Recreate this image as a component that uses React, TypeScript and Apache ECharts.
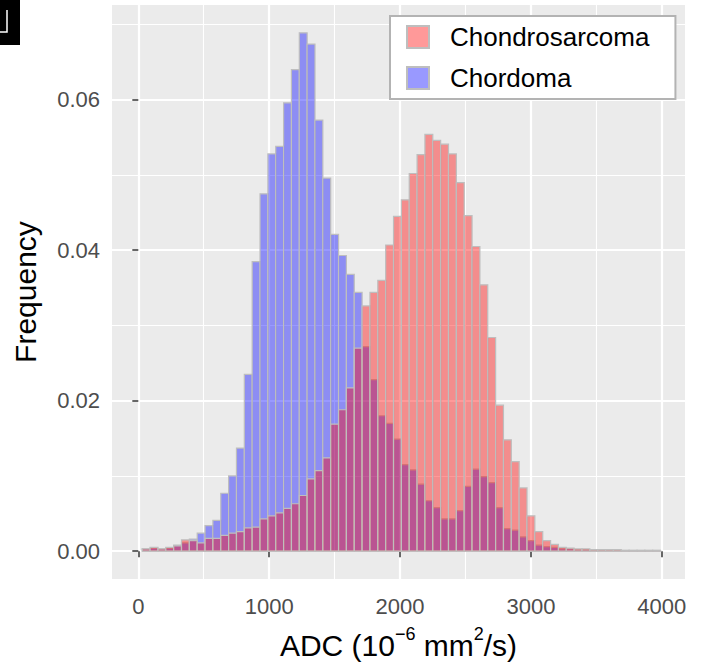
import { useEffect, useRef } from 'react';
import * as echarts from 'echarts';

const BIN_WIDTH = 60;
const BIN_CENTERS = [
  60, 120, 180, 240, 300, 360, 420, 480, 540, 600,
  660, 720, 780, 840, 900, 960, 1020, 1080, 1140, 1200,
  1260, 1320, 1380, 1440, 1500, 1560, 1620, 1680, 1740, 1800,
  1860, 1920, 1980, 2040, 2100, 2160, 2220, 2280, 2340, 2400,
  2460, 2520, 2580, 2640, 2700, 2760, 2820, 2880, 2940, 3000,
  3060, 3120, 3180, 3240, 3300, 3360, 3420, 3480, 3540, 3600,
  3660, 3720, 3780, 3840, 3900, 3960,
];
const CHONDROSARCOMA = [
  0.0003, 0.0005, 0.0003, 0.0005, 0.0007, 0.0015, 0.0014, 0.0011, 0.0017, 0.0017,
  0.0021, 0.0024, 0.0026, 0.0031, 0.0032, 0.0043, 0.0047, 0.0051, 0.0057, 0.0063,
  0.0074, 0.0096, 0.0107, 0.0124, 0.0169, 0.0188, 0.0217, 0.0270, 0.0326, 0.0344,
  0.0360, 0.0407, 0.0445, 0.0467, 0.0502, 0.0527, 0.0554, 0.0546, 0.0541, 0.0528,
  0.0490, 0.0446, 0.0405, 0.0354, 0.0284, 0.0194, 0.0148, 0.0119, 0.0084, 0.0047,
  0.0026, 0.0014, 0.0009, 0.0005, 0.0004, 0.0003, 0.0003, 0.0002, 0.0002, 0.0002,
  0.0002, 0.0001, 0.0001, 0.0001, 0.0001, 0.0001,
];
const CHORDOMA = [
  0.0003, 0.0004, 0.0003, 0.0004, 0.0008, 0.0011, 0.0016, 0.0024, 0.0034, 0.0041,
  0.0077, 0.0100, 0.0137, 0.0235, 0.0385, 0.0475, 0.0528, 0.0538, 0.0596, 0.0640,
  0.0689, 0.0674, 0.0573, 0.0496, 0.0421, 0.0393, 0.0368, 0.0344, 0.0272, 0.0228,
  0.0180, 0.0170, 0.0149, 0.0115, 0.0108, 0.0089, 0.0067, 0.0058, 0.0043, 0.0043,
  0.0054, 0.0086, 0.0109, 0.0099, 0.0091, 0.0058, 0.0030, 0.0028, 0.0019, 0.0014,
  0.0008, 0.0006, 0.0005, 0.0003, 0.0003, 0.0002, 0.0002, 0.0001, 0.0001, 0.0001,
  0.0001, 0.0001, 0.0001, 0.0001, 0.0001, 0.0001,
];
const SERIES_NAMES = ['Chondrosarcoma', 'Chordoma'];
const X_MAJOR = [0, 1000, 2000, 3000, 4000];
const X_MINOR = [500, 1500, 2500, 3500];
const Y_MAJOR = [0, 0.02, 0.04, 0.06];
const Y_MINOR = [0.01, 0.03, 0.05, 0.07];

const X_MIN = -201;
const X_MAX = 4177;
const Y_MIN = -0.0037;
const Y_MAX = 0.0726;

const FONT = 'Liberation Sans, Arial, Helvetica, sans-serif';
const RED = 'rgba(255,0,0,0.4)';
const BLUE = 'rgba(0,0,255,0.4)';
const OUTLINE = '#BEBEBE';

function makeRender(fill: string) {
  return (_params: any, api: any) => {
    const c = api.value(0) as number;
    const v = api.value(1) as number;
    const tl = api.coord([c - BIN_WIDTH / 2, v]);
    const br = api.coord([c + BIN_WIDTH / 2, 0]);
    return {
      type: 'rect',
      shape: { x: tl[0], y: tl[1], width: br[0] - tl[0], height: br[1] - tl[1] },
      style: { fill, stroke: OUTLINE, lineWidth: 1.2 },
    };
  };
}

export default function App() {
  const ref = useRef<HTMLDivElement>(null);
  useEffect(() => {
    if (!ref.current) return;
    const chart = echarts.init(ref.current, null, { renderer: 'svg' });
    const tickStyle = { color: '#333333', width: 1.5 };
    const option: any = {
      animation: false,
      textStyle: { fontFamily: FONT },
      grid: {
        left: 112, top: 5, width: 573, height: 575,
        show: true, backgroundColor: '#EBEBEB', borderWidth: 0,
      },
      legend: {
        data: SERIES_NAMES,
        orient: 'vertical',
        left: 390, top: 16,
        itemWidth: 22, itemHeight: 22, itemGap: 13,
        padding: [7, 26, 7, 16],
        backgroundColor: '#ffffff',
        borderColor: '#B3B3B3', borderWidth: 2,
        icon: 'rect',
        selectedMode: false,
        textStyle: {
          fontSize: 26, lineHeight: 28, color: '#000', fontFamily: FONT, padding: [0, 0, 0, 16],
        },
      },
      xAxis: [
        {
          type: 'value', min: X_MIN, max: X_MAX,
          axisLine: { show: false },
          axisTick: { show: true, customValues: X_MAJOR, length: 6, lineStyle: tickStyle },
          axisLabel: {
            customValues: X_MAJOR, margin: 16, fontSize: 22, color: '#4D4D4D', fontFamily: FONT,
            formatter: (v: number) => String(v),
          },
          splitLine: { show: true, customValues: X_MAJOR, lineStyle: { color: '#ffffff', width: 2.2 } },
          name: 'ADC (10{sup|\u22126} mm{sup|2}/s)',
          nameLocation: 'middle', nameGap: 46,
          nameTextStyle: {
            fontSize: 30, color: '#000', fontFamily: FONT, lineHeight: 40,
            rich: { sup: { fontSize: 18, verticalAlign: 'top', lineHeight: 20, color: '#000', fontFamily: FONT } },
          },
        },
        {
          type: 'value', min: X_MIN, max: X_MAX, position: 'bottom',
          axisLine: { show: false },
          axisTick: { show: false, customValues: X_MINOR },
          axisLabel: { show: false, customValues: X_MINOR },
          splitLine: { show: true, customValues: X_MINOR, lineStyle: { color: '#ffffff', width: 1.1 } },
        },
      ],
      yAxis: [
        {
          type: 'value', min: Y_MIN, max: Y_MAX,
          axisLine: { show: false },
          axisTick: { show: true, customValues: Y_MAJOR, length: 6, lineStyle: tickStyle },
          axisLabel: {
            customValues: Y_MAJOR, margin: 12, fontSize: 22, color: '#4D4D4D', fontFamily: FONT,
            formatter: (v: number) => v.toFixed(2),
          },
          splitLine: { show: true, customValues: Y_MAJOR, lineStyle: { color: '#ffffff', width: 2.2 } },
          name: 'Frequency', nameLocation: 'middle', nameRotate: 90, nameGap: 72,
          nameTextStyle: { fontSize: 30, color: '#000', fontFamily: FONT },
        },
        {
          type: 'value', min: Y_MIN, max: Y_MAX, position: 'left',
          axisLine: { show: false },
          axisTick: { show: false, customValues: Y_MINOR },
          axisLabel: { show: false, customValues: Y_MINOR },
          splitLine: { show: true, customValues: Y_MINOR, lineStyle: { color: '#ffffff', width: 1.1 } },
        },
      ],
      series: [
        {
          name: 'Chordoma', type: 'custom', xAxisIndex: 0, yAxisIndex: 0,
          renderItem: makeRender(BLUE),
          itemStyle: { color: BLUE, borderColor: OUTLINE, borderWidth: 2 },
          encode: { x: 0, y: 1 },
          data: BIN_CENTERS.map((c, i) => [c, CHORDOMA[i]]),
          z: 3,
        },
        {
          name: 'Chondrosarcoma', type: 'custom', xAxisIndex: 0, yAxisIndex: 0,
          renderItem: makeRender(RED),
          itemStyle: { color: RED, borderColor: OUTLINE, borderWidth: 2 },
          encode: { x: 0, y: 1 },
          data: BIN_CENTERS.map((c, i) => [c, CHONDROSARCOMA[i]]),
          z: 4,
        },
      ],
      graphic: [
        { type: 'rect', left: 0, top: 0, shape: { width: 20, height: 45 }, style: { fill: '#000' } },
        {
          type: 'polyline', shape: { points: [[0, 32], [7, 32], [7, 10]] },
          style: { stroke: '#fff', lineWidth: 1.5, fill: 'none' },
        },
      ],
    };
    chart.setOption(option);
    return () => chart.dispose();
  }, []);
  return <div ref={ref} style={{ position: 'absolute', left: 0, top: 0, width: 707, height: 670 }} />;
}
